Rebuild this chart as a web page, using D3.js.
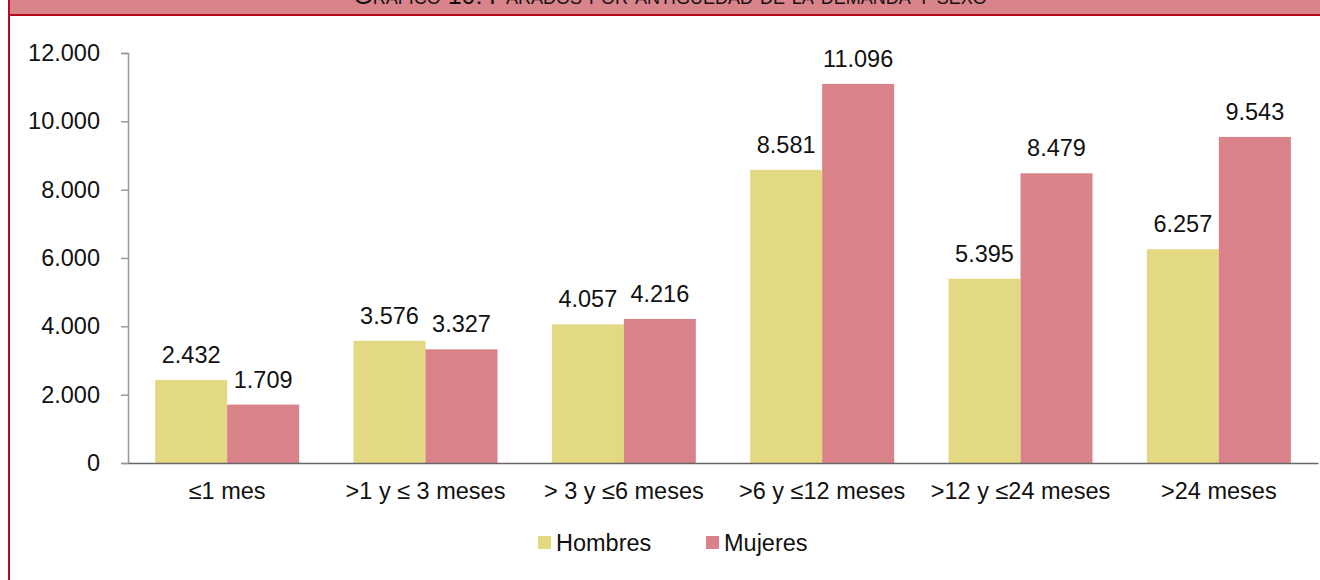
<!DOCTYPE html>
<html lang="es">
<head>
  <meta charset="UTF-8">
  <title>Parados por antigüedad de la demanda y sexo</title>
  <script src="https://cdn.jsdelivr.net/npm/d3@7"></script>
  <style>
    body { margin: 0; background: #fff; }
    svg { display: block; font-family: "Liberation Sans", Arial, sans-serif; }
  </style>
</head>
<body>
<svg class="chart"></svg>
<script>
  var categories = ['≤1 mes', '>1 y ≤ 3 meses', '> 3 y ≤6 meses', '>6 y ≤12 meses', '>12 y ≤24 meses', '>24 meses'];
  var hombres = [2432, 3576, 4057, 8581, 5395, 6257];
  var mujeres = [1709, 3327, 4216, 11096, 8479, 9543];
  var seriesNames = ['Hombres', 'Mujeres'];
  var yTicks = [0, 2000, 4000, 6000, 8000, 10000, 12000];
  var title = 'Gráfico 10: Parados por antigüedad de la demanda y sexo';

  var svgWidth = 1320;
  var svgHeight = 580;
  var colors = ['#E2D982', '#D9828A'];
  var fontSize = 23.5;
  var margin = {top: 53, right: 2, bottom: 117, left: 128};
  var chartWidth = svgWidth - margin.left - margin.right;
  var chartHeight = svgHeight - margin.top - margin.bottom;

  var fmt = function(v) { return d3.format(',')(v).replace(/,/g, '.'); };

  var svg = d3.select('.chart')
    .attr('width', svgWidth)
    .attr('height', svgHeight);

  // header band (title sits mostly above the visible area, as in the original)
  svg.append('rect').attr('x', 9).attr('y', 0).attr('width', svgWidth - 9).attr('height', 14).attr('fill', '#D9838B');
  svg.append('text')
    .attr('x', 670).attr('y', 3.5)
    .attr('text-anchor', 'middle')
    .attr('font-size', 25)
    .style('font-variant', 'small-caps')
    .attr('fill', '#111')
    .text(title.toUpperCase().charAt(0) + title.slice(1));
  svg.append('rect').attr('x', 9).attr('y', 14).attr('width', svgWidth - 9).attr('height', 2).attr('fill', '#B5091F');
  svg.append('rect').attr('x', 8).attr('y', 0).attr('width', 2).attr('height', svgHeight).attr('fill', '#B5091F');

  var x0 = d3.scaleBand().domain(categories).range([0, chartWidth]).paddingInner(0.274).paddingOuter(0.137);
  var x1 = d3.scaleBand().domain(seriesNames).range([0, x0.bandwidth()]);
  var y = d3.scaleLinear().domain([0, 12000]).range([chartHeight, 0]);

  var chart = svg.append('g')
    .attr('transform', 'translate(' + margin.left + ',' + margin.top + ')');

  var yAxis = chart.append('g')
    .call(d3.axisLeft(y).tickValues(yTicks).tickFormat(fmt).tickSize(7).tickSizeOuter(7).tickPadding(21));
  yAxis.selectAll('path, line').attr('stroke', '#999').attr('stroke-width', 1.5);
  yAxis.selectAll('text').attr('font-size', fontSize).attr('fill', '#111').attr('font-family', null);

  var data = categories.map(function(c, i) { return {cat: c, vals: [hombres[i], mujeres[i]]}; });

  var groups = chart.selectAll('.grp')
    .data(data)
    .enter()
    .append('g')
    .attr('transform', function(d) { return 'translate(' + x0(d.cat) + ',0)'; });

  groups.selectAll('rect')
    .data(function(d) { return d.vals.map(function(v, j) { return {v: v, s: seriesNames[j], j: j}; }); })
    .enter()
    .append('rect')
    .attr('x', function(d) { return x1(d.s); })
    .attr('y', function(d) { return y(d.v); })
    .attr('width', x1.bandwidth())
    .attr('height', function(d) { return chartHeight - y(d.v); })
    .attr('fill', function(d) { return colors[d.j]; });

  groups.selectAll('.lbl')
    .data(function(d) { return d.vals.map(function(v, j) { return {v: v, s: seriesNames[j]}; }); })
    .enter()
    .append('text')
    .attr('x', function(d) { return x1(d.s) + x1.bandwidth() / 2; })
    .attr('y', function(d) { return y(d.v) - 17; })
    .attr('text-anchor', 'middle')
    .attr('font-size', fontSize)
    .attr('fill', '#111')
    .text(function(d) { return fmt(d.v); });

  var xAxis = chart.append('g')
    .attr('transform', 'translate(0,' + chartHeight + ')')
    .call(d3.axisBottom(x0).tickSize(0).tickSizeOuter(0).tickPadding(19));
  xAxis.select('path').attr('stroke', '#666').attr('stroke-width', 1.5);
  xAxis.selectAll('text').attr('font-size', fontSize).attr('fill', '#111').attr('font-family', null);

  // legend
  var legendX = [538, 706];
  var legend = svg.selectAll('.leg')
    .data(seriesNames)
    .enter()
    .append('g')
    .attr('transform', function(d, i) { return 'translate(' + legendX[i] + ',535)'; });
  legend.append('rect').attr('y', 1).attr('width', 13).attr('height', 13).attr('fill', function(d, i) { return colors[i]; });
  legend.append('text').attr('x', 18).attr('y', 16).attr('font-size', fontSize).attr('fill', '#111').text(function(d) { return d; });
</script>
</body>
</html>
